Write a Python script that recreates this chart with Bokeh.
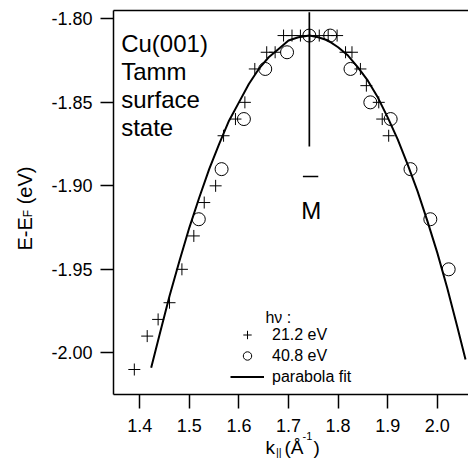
from math import pi
from bokeh.plotting import figure
from bokeh.models import Range1d, Label, Legend, LegendItem, FixedTicker
from bokeh.embed import file_html
from bokeh.resources import INLINE

# ---- data ----
k_21eV = [1.389, 1.415, 1.437, 1.460, 1.485, 1.509, 1.530, 1.553, 1.569, 1.593,
          1.612, 1.632, 1.656, 1.673, 1.690, 1.707, 1.724, 1.743, 1.762, 1.780,
          1.798, 1.815, 1.828, 1.845, 1.857, 1.882, 1.889, 1.902]
e_21eV = [-2.01, -1.99, -1.98, -1.97, -1.95, -1.93, -1.91, -1.90, -1.87, -1.86,
          -1.85, -1.83, -1.82, -1.82, -1.81, -1.81, -1.81, -1.81, -1.81, -1.81,
          -1.81, -1.82, -1.82, -1.83, -1.84, -1.85, -1.86, -1.87]
k_41eV = [1.519, 1.565, 1.610, 1.653, 1.697, 1.742, 1.784, 1.825, 1.865, 1.906,
          1.946, 1.986, 2.023]
e_41eV = [-1.92, -1.89, -1.86, -1.83, -1.82, -1.81, -1.81, -1.83, -1.85, -1.86,
          -1.89, -1.92, -1.95]
k_fit = [1.423, 1.44, 1.46, 1.48, 1.50, 1.52, 1.54, 1.56, 1.58, 1.60, 1.62, 1.64,
         1.66, 1.68, 1.70, 1.72, 1.742, 1.76, 1.78, 1.80, 1.82, 1.84, 1.86, 1.88,
         1.90, 1.92, 1.94, 1.96, 1.98, 2.00, 2.02, 2.04, 2.057]
e_fit = [-2.009, -1.989, -1.966, -1.945, -1.925, -1.907, -1.890, -1.875, -1.861,
         -1.850, -1.839, -1.830, -1.823, -1.818, -1.813, -1.811, -1.810, -1.811,
         -1.813, -1.817, -1.822, -1.829, -1.837, -1.847, -1.859, -1.872, -1.887,
         -1.903, -1.921, -1.940, -1.961, -1.984, -2.004]
m_point_k = [1.742, 1.742]
m_point_e = [-1.796, -1.8765]

x_ticks = [1.4, 1.5, 1.6, 1.7, 1.8, 1.9, 2.0]
x_tick_labels = ["1.4", "1.5", "1.6", "1.7", "1.8", "1.9", "2.0"]
y_ticks = [-2.00, -1.95, -1.90, -1.85, -1.80]
y_tick_labels = ["-2.00", "-1.95", "-1.90", "-1.85", "-1.80"]

x_axis_span = (1.347, 2.063)
y_axis_span = (-2.025, -1.795)

FONT = "Liberation Sans"

# frame covers the whole canvas; axes are pinned with fixed_location
p = figure(width=468, height=460, output_backend="svg", toolbar_location=None,
           x_range=Range1d(1.1191, 2.063), y_range=Range1d(-2.0645, -1.7890),
           min_border_left=0, min_border_right=0, min_border_top=0,
           min_border_bottom=0)
p.outline_line_color = None
p.grid.visible = False
p.background_fill_color = "white"
p.border_fill_color = "white"

for ax in (p.xaxis[0], p.yaxis[0]):
    ax.axis_line_width = 1.5
    ax.axis_line_color = "black"
    ax.major_tick_line_width = 1.5
    ax.major_tick_line_color = "black"
    ax.minor_tick_line_color = None
    ax.major_tick_in = 0
    ax.major_label_text_font = FONT
    ax.major_label_text_font_size = "18px"
    ax.major_label_text_color = "black"
p.xaxis.fixed_location = y_axis_span[0]
p.yaxis.fixed_location = x_axis_span[0]
p.xaxis.bounds = x_axis_span
p.yaxis.bounds = y_axis_span
p.xaxis.major_tick_out = 14
p.yaxis.major_tick_out = 13
p.xaxis.major_label_standoff = 10
p.yaxis.major_label_standoff = 8
p.xaxis.ticker = FixedTicker(ticks=x_ticks)
p.yaxis.ticker = FixedTicker(ticks=y_ticks)
p.xaxis.major_label_overrides = dict(zip(x_ticks, x_tick_labels))
p.yaxis.major_label_overrides = dict(zip(y_ticks, y_tick_labels))

# top frame line
p.line(list(x_axis_span), [y_axis_span[1], y_axis_span[1]], line_color="black", line_width=1.5)

# data
r_fit = p.line(k_fit, e_fit, line_color="black", line_width=2)
r_21 = p.scatter(k_21eV, e_21eV, marker="cross", size=12, line_color="black", line_width=1)
r_41 = p.scatter(k_41eV, e_41eV, marker="circle", size=13, fill_color=None,
                 line_color="black", line_width=1)
p.line(m_point_k, m_point_e, line_color="black", line_width=1.7)

# M-bar label
p.segment(x0=[1.729], x1=[1.760], y0=[-1.8944], y1=[-1.8944], line_color="black", line_width=1.5)
p.add_layout(Label(x=1.7458, y=-1.9148, text="M", text_align="center", text_color="black",
                   text_baseline="alphabetic", text_font=FONT, text_font_size="24px"))

# sample annotation
for txt, yy in zip(["Cu(001)", "Tamm", "surface", "state"],
                   [-1.8146, -1.8314, -1.8483, -1.8649]):
    p.add_layout(Label(x=1.3625, y=yy, text=txt, text_align="left", text_color="black",
                       text_baseline="alphabetic", text_font=FONT, text_font_size="24px"))

# legend
p.add_layout(Label(x=1.6534, y=-1.9790, text="h\u03bd :", text_baseline="alphabetic",
                   text_color="black", text_font=FONT, text_font_size="16px"))
legend = Legend(items=[LegendItem(label="21.2 eV", renderers=[r_21]),
                       LegendItem(label="40.8 eV", renderers=[r_41]),
                       LegendItem(label="parabola fit", renderers=[r_fit])],
                location=(230, 73), glyph_width=34, glyph_height=21, label_height=21,
                label_standoff=8, spacing=0, padding=0, margin=0,
                border_line_color=None, background_fill_alpha=0,
                label_text_font=FONT, label_text_font_size="16px", label_text_color="black")
p.add_layout(legend)

# axis titles built from pieces (screen units from the canvas bottom-left)
xl = [("k", 265, 13, "19px"), ("||", 275.5, 9, "11px"), ("(\u00c5", 284, 13, "19px"),
      ("-1", 302, 25, "11px"), (")", 313, 13, "19px")]
for t, sx, sy, fs in xl:
    p.add_layout(Label(x=sx, y=sy, x_units="screen", y_units="screen", text=t,
                       text_color="black", text_baseline="alphabetic",
                       text_font=FONT, text_font_size=fs))
yl = [("E-E", 24, 210, "20px"), ("F", 27.5, 243.3, "12px"), ("(eV)", 24, 256.2, "20px")]
for t, sx, sy, fs in yl:
    p.add_layout(Label(x=sx, y=sy, x_units="screen", y_units="screen", text=t, angle=pi / 2,
                       text_color="black", text_baseline="alphabetic",
                       text_font=FONT, text_font_size=fs))

open("out.html", "w").write(file_html(p, INLINE))
